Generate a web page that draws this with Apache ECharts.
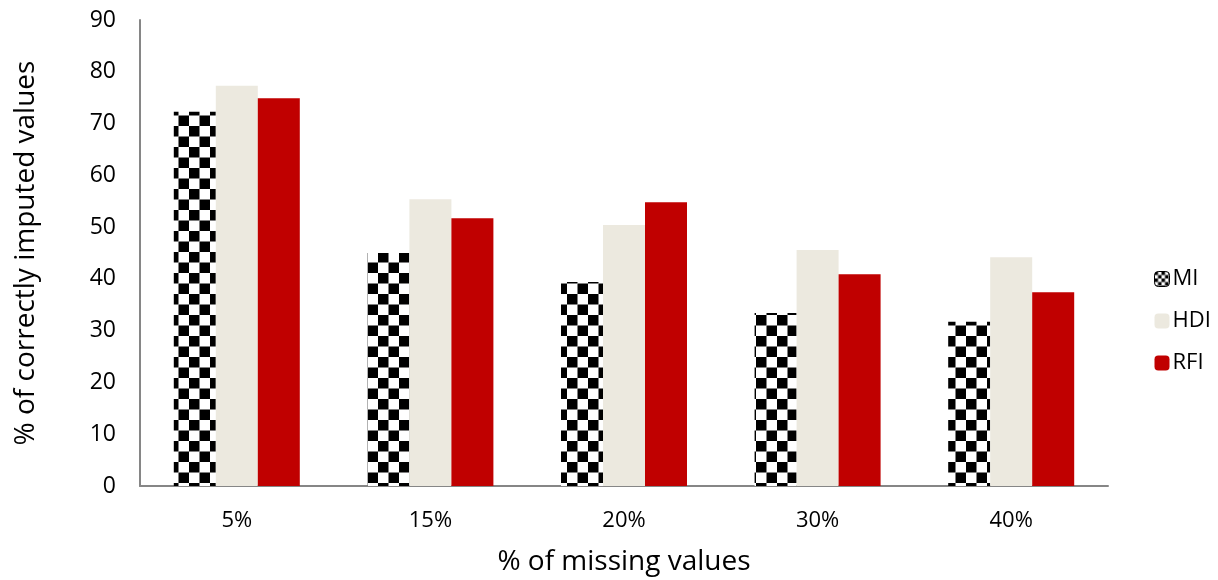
<!DOCTYPE html>
<html>
<head>
<meta charset="utf-8">
<script src="https://cdn.jsdelivr.net/npm/echarts@6/dist/echarts.min.js"></script>
<style>
  html, body { margin: 0; padding: 0; background: #fff; }
  #chart { width: 1218px; height: 580px; }
</style>
</head>
<body>
<div id="chart"></div>
<script>
// Share of missing values in the data set
const categories = ['5%', '15%', '20%', '30%', '40%'];
// Percentage of correctly imputed values per method
const miValues  = [72.3, 45.0, 39.4, 33.4, 31.7];
const hdiValues = [77.3, 55.4, 50.4, 45.6, 44.2];
const rfiValues = [74.9, 51.7, 54.8, 40.9, 37.4];
const yTicks = [0, 10, 20, 30, 40, 50, 60, 70, 80, 90];

const FONT = '"Open Sans", "Noto Sans", sans-serif';

// Black/white checkerboard fill for the MI bars
function checker(size) {
  const c = document.createElement('canvas');
  c.width = size * 2; c.height = size * 2;
  const g = c.getContext('2d');
  g.fillStyle = '#ffffff';
  g.fillRect(0, 0, c.width, c.height);
  g.fillStyle = '#000000';
  g.fillRect(0, 0, size, size);
  g.fillRect(size, size, size, size);
  return c;
}
const checkerFill = { image: checker(10.5), repeat: 'repeat' };
const checkerIcon = { image: checker(3.5), repeat: 'repeat' };

const chart = echarts.init(document.getElementById('chart'), null, { renderer: 'canvas' });

chart.setOption({
  animation: false,
  backgroundColor: '#ffffff',
  textStyle: { fontFamily: FONT },
  grid: {
    left: 140, right: 110, top: 20, bottom: 94,
    containLabel: false,
    outerBoundsMode: 'none'
  },
  legend: {
    orient: 'vertical',
    left: 1149,
    top: 263,
    itemWidth: 15,
    itemHeight: 15,
    itemGap: 20,
    textStyle: { fontFamily: FONT, fontSize: 22, color: '#000', padding: [0, 0, 0, -2] },
    data: [
      { name: 'MI', itemStyle: { color: checkerIcon, borderColor: '#000', borderWidth: 1 } },
      { name: 'HDI' },
      { name: 'RFI' }
    ]
  },
  xAxis: {
    type: 'category',
    data: categories,
    name: '% of missing values',
    nameLocation: 'middle',
    nameGap: 62,
    nameTextStyle: { fontFamily: FONT, fontSize: 28, color: '#000' },
    axisLine: { lineStyle: { color: '#868686', width: 2 } },
    axisTick: { show: false },
    axisLabel: { fontFamily: FONT, fontSize: 22, color: '#000', margin: 24 }
  },
  yAxis: {
    type: 'value',
    min: yTicks[0],
    max: yTicks[yTicks.length - 1],
    interval: 10,
    name: '% of correctly imputed values',
    nameLocation: 'middle',
    nameGap: 100,
    nameTextStyle: { fontFamily: FONT, fontSize: 28, color: '#000' },
    axisLine: { show: true, lineStyle: { color: '#868686', width: 2 } },
    axisTick: { show: false },
    splitLine: { show: false },
    axisLabel: { fontFamily: FONT, fontSize: 23, color: '#000', margin: 24 }
  },
  series: [
    {
      name: 'MI', type: 'bar', data: miValues,
      barWidth: 42, barGap: '0%',
      itemStyle: { color: checkerFill }
    },
    {
      name: 'HDI', type: 'bar', data: hdiValues,
      barWidth: 42, barGap: '0%',
      itemStyle: { color: '#ece9df' }
    },
    {
      name: 'RFI', type: 'bar', data: rfiValues,
      barWidth: 42, barGap: '0%',
      itemStyle: { color: '#c00000' }
    }
  ]
});
</script>
</body>
</html>
